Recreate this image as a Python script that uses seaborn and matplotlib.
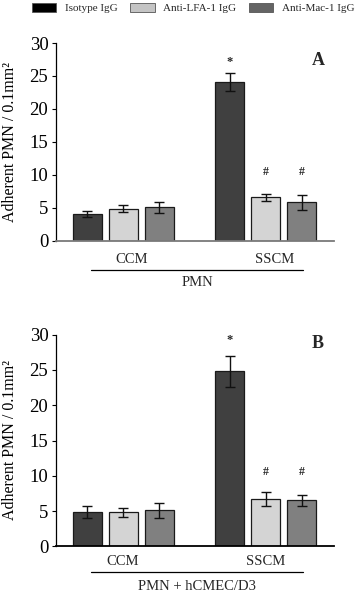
import matplotlib
matplotlib.use('Agg')
import matplotlib.pyplot as plt
import seaborn as sns
import pandas as pd
from matplotlib.patches import Patch

# ---------------- data ----------------
conditions = ['CCM', 'SSCM']
treatments = ['Isotype IgG', 'Anti-LFA-1 IgG', 'Anti-Mac-1 IgG']

a_isotype = [4.05, 24.1]
a_lfa = [4.85, 6.6]
a_mac = [5.05, 5.8]
a_isotype_err = [0.5, 1.4]
a_lfa_err = [0.55, 0.55]
a_mac_err = [0.85, 1.1]

b_isotype = [4.85, 24.8]
b_lfa = [4.8, 6.65]
b_mac = [5.1, 6.5]
b_isotype_err = [0.9, 2.15]
b_lfa_err = [0.7, 1.0]
b_mac_err = [1.1, 0.75]

yticks = [0, 5, 10, 15, 20, 25, 30]
ylabel = 'Adherent PMN / 0.1mm²'
bar_colors = ['#404040', '#d4d4d4', '#808080']
legend_colors = ['#000000', '#c4c4c4', '#646464']

# ---------------- style ----------------
sns.set_theme(style='white')
plt.rcParams['font.family'] = ['Liberation Serif', 'DejaVu Serif']

fig = plt.figure(figsize=(3.58, 5.95), dpi=100)
W, H = 358.0, 595.0
axA = fig.add_axes([56 / W, 1 - 240.7 / H, 278 / W, (240.7 - 43) / H])
axB = fig.add_axes([56 / W, 1 - 546.3 / H, 278 / W, (546.3 - 334.7) / H])


def make_df(iso, lfa, mac):
    rows = []
    for t, vals in zip(treatments, [iso, lfa, mac]):
        for c, v in zip(conditions, vals):
            rows.append({'condition': c, 'treatment': t, 'value': v})
    return pd.DataFrame(rows)


def draw_panel(ax, iso, lfa, mac, errs, letter, letter_y, star_y, hash_y,
               group_label, lab_off, line_off, glabel_off, xaxis_color, lab_dx):
    df = make_df(iso, lfa, mac)
    sns.barplot(data=df, x='condition', y='value', hue='treatment',
                order=conditions, hue_order=treatments, palette=bar_colors,
                saturation=1, width=0.756, gap=0.195, errorbar=None,
                edgecolor='#1a1a1a', linewidth=0.9, legend=False, ax=ax)
    centers = []
    for cont, err in zip(ax.containers, errs):
        xs = [b.get_x() + b.get_width() / 2 for b in cont]
        hs = [b.get_height() for b in cont]
        centers.append(xs)
        ax.errorbar(xs, hs, yerr=err, fmt='none', ecolor='#111111',
                    elinewidth=1.0, capsize=3.5, capthick=1.0, zorder=5)
    ax.set_ylim(0, 30)
    ax.set_xlim(-0.469, 1.476)
    ax.set_yticks(yticks)
    ax.set_xticks([])
    ax.set_xlabel('')
    ax.set_ylabel(ylabel, fontsize=11.5, color='black')
    ax.yaxis.set_label_coords(-0.137, 0.5)
    ax.tick_params(axis='y', which='both', left=True, length=3, width=0.8,
                   pad=2.5, labelsize=13.5, colors='black')
    for s in ['top', 'right']:
        ax.spines[s].set_visible(False)
    ax.spines['left'].set_color('black')
    ax.spines['left'].set_linewidth(0.9)
    ax.spines['bottom'].set_color(xaxis_color)
    ax.spines['bottom'].set_linewidth(1.3)
    # annotations
    ax.text(centers[0][1], star_y, '*', ha='center', va='center', fontsize=9,
            fontweight='bold')
    for k in (1, 2):
        ax.text(centers[k][1], hash_y, '#', ha='center', va='center',
                fontsize=8.5, fontweight='bold')
    ax.text(1.364, letter_y, letter, ha='center', va='center', fontsize=13,
            fontweight='bold')
    # group labels
    tr = ax.get_xaxis_transform()
    for i, c in enumerate(conditions):
        ax.text(i + lab_dx, lab_off, c, transform=tr, ha='center', va='center',
                fontsize=10.5, clip_on=False)
    ax.plot([-0.224, 1.259], [line_off, line_off], transform=tr, color='black',
            lw=0.9, clip_on=False)
    ax.text(0.518, glabel_off, group_label, transform=tr, ha='center',
            va='center', fontsize=10.5, clip_on=False)


draw_panel(axA, a_isotype, a_lfa, a_mac,
           [a_isotype_err, a_lfa_err, a_mac_err], 'A', 27.4, 27.1, 10.45,
           'PMN', -0.093, -0.148, -0.209, '#7a7a7a', 0.06)
draw_panel(axB, b_isotype, b_lfa, b_mac,
           [b_isotype_err, b_lfa_err, b_mac_err], 'B', 28.8, 29.3, 10.5,
           'PMN + hCMEC/D3', -0.0695, -0.12, -0.192, 'black', 0.0)

# legend
handles = [Patch(facecolor=c, edgecolor='#555555', linewidth=0.6)
           for c in legend_colors]
fig.legend(handles, treatments, loc='upper left',
           bbox_to_anchor=(32 / W, 1 - 3 / H), ncol=3, frameon=False,
           fontsize=8.0, handlelength=2.2, handleheight=0.85,
           handletextpad=0.75, columnspacing=1.15, borderpad=0,
           borderaxespad=0)

fig.savefig('out.png', dpi=100)
